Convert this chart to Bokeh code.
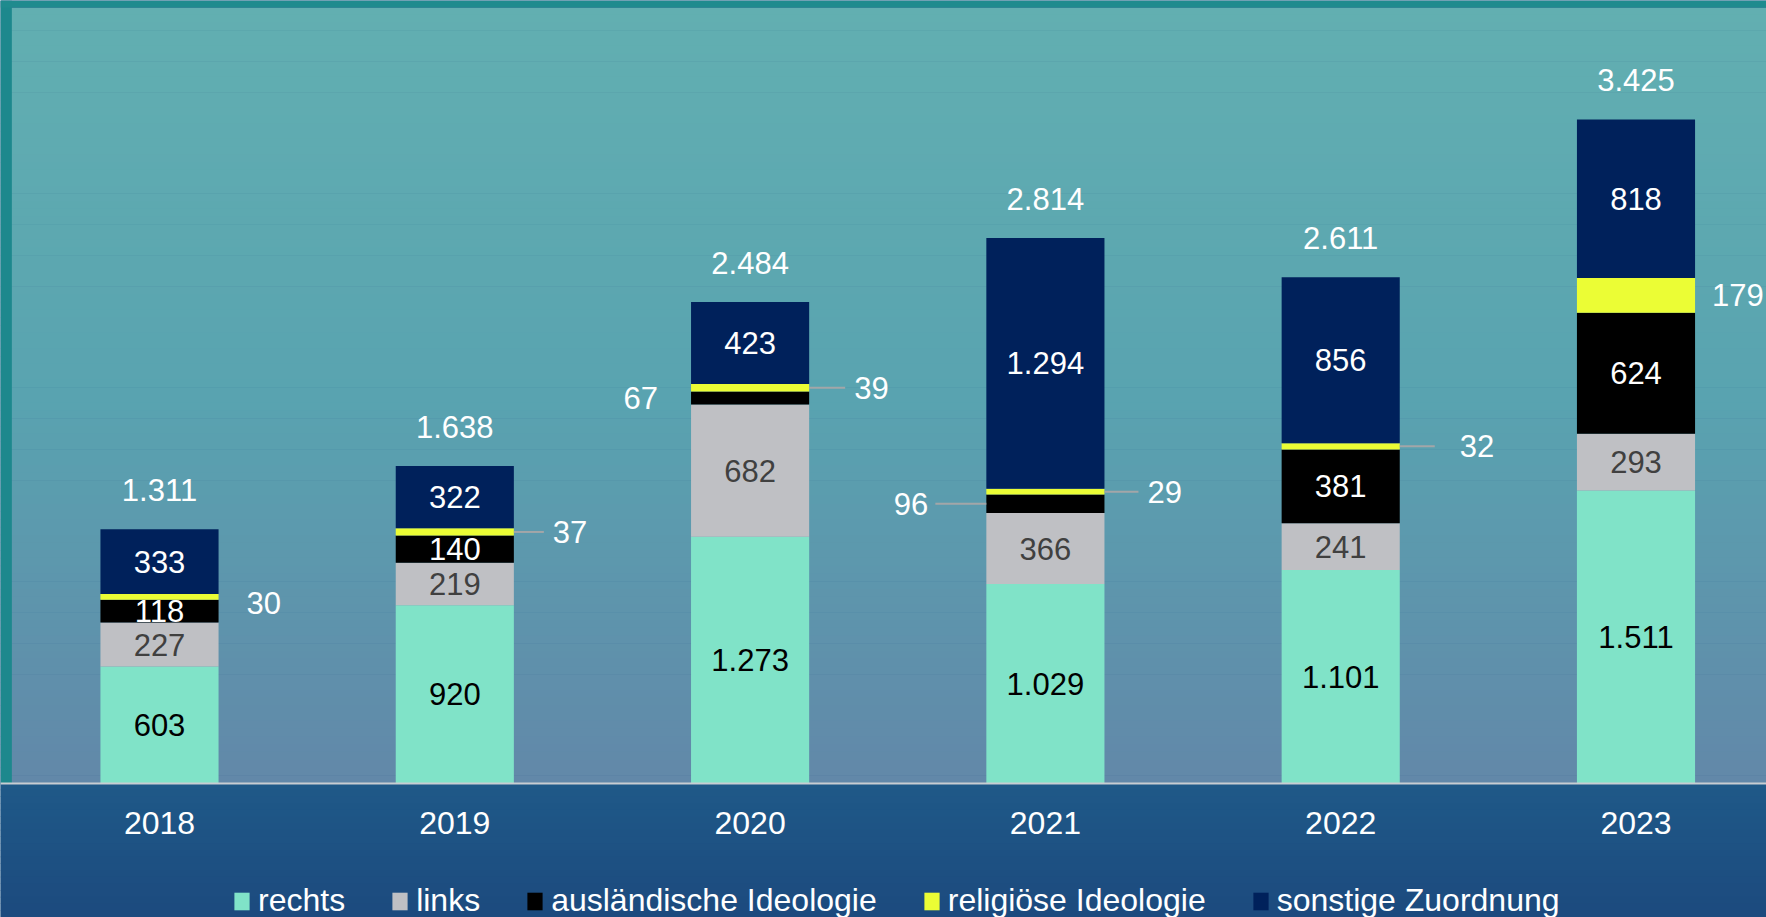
from bokeh.plotting import figure
from bokeh.models import Range1d, ColumnDataSource, Legend, LegendItem, Span
from bokeh.core.properties import value
from bokeh.embed import file_html
from bokeh.resources import INLINE

# ---------------- data ----------------
years = ["2018", "2019", "2020", "2021", "2022", "2023"]
rechts = [603, 920, 1273, 1029, 1101, 1511]
links = [227, 219, 682, 366, 241, 293]
auslaendisch = [118, 140, 67, 96, 381, 624]
religioes = [30, 37, 39, 29, 32, 179]
sonstige = [333, 322, 423, 1294, 856, 818]

series_keys = ["rechts", "links", "auslaendisch", "religioes", "sonstige"]
series_names = ["rechts", "links", "ausländische Ideologie", "religiöse Ideologie", "sonstige Zuordnung"]
series_values = [rechts, links, auslaendisch, religioes, sonstige]

# ---------------- style ----------------
series_colors = ["#80e3c8", "#bfc0c4", "#000000", "#ebfd35", "#00215b"]
label_colors = ["#000000", "#404040", "#ffffff", "#ffffff", "#ffffff"]
FONT_NAME = "Liberation Sans"
FONT = value(FONT_NAME)
FS = "31px"
FS_BIG = "32px"

# labels drawn outside the bar: (series index, year index) -> (side, leader px, gap px, dy px)
outside = {
    (3, 0): ("right", 0, 28, 6),
    (3, 1): ("right", 30, 39, 0),
    (2, 2): ("left", 0, 33, 0),
    (3, 2): ("right", 36, 45, 0),
    (2, 3): ("left", 51, 58, 0),
    (3, 3): ("right", 34, 43, 0),
    (3, 4): ("right", 35, 60, 0),
    (3, 5): ("right", 0, 17, 0),
}

W, H = 1766, 917
TOP_Y = 7             # px of the top frame strip
BASE_Y = 783          # px from top of the figure to the baseline
PX_PER_UNIT = 0.19387
PX_PER_CAT = 295.3
X0_PX = 11.35
BAR_W = 0.4

def px_x(px):
    return px / PX_PER_CAT

def px_y(px):
    return px / PX_PER_UNIT

def fmt(v):
    return f"{v:,}".replace(",", ".")

xr = Range1d(-px_x(X0_PX), px_x(W - X0_PX))
yr = Range1d(-px_y(H - BASE_Y), px_y(BASE_Y))

p = figure(width=W, height=H, x_range=xr, y_range=yr,
           output_backend="svg", toolbar_location=None,
           x_axis_type=None, y_axis_type=None, min_border=0,
           outline_line_color=None, background_fill_color="#1d5283",
           border_fill_color="#1d5283")
p.grid.visible = False

# ---------------- background gradients ----------------
def hex2rgb(h):
    h = h.lstrip("#")
    return tuple(int(h[i:i + 2], 16) for i in (0, 2, 4))

def interp(stops, t):
    for (t0, c0), (t1, c1) in zip(stops, stops[1:]):
        if t0 <= t <= t1:
            f = (t - t0) / (t1 - t0) if t1 > t0 else 0
            a, b = hex2rgb(c0), hex2rgb(c1)
            return "#%02x%02x%02x" % tuple(round(a[i] + (b[i] - a[i]) * f) for i in range(3))
    return stops[-1][1]

top_stops = [(TOP_Y, "#62afb1"), (400, "#59a3b0"), (BASE_Y, "#6288a9")]
bot_stops = [(BASE_Y, "#1f5988"), (H, "#1c4a7e")]

def strips(stops, y_from, y_to, n):
    b, t, c = [], [], []
    step = (y_to - y_from) / n
    for i in range(n):
        s0 = y_from + i * step
        s1 = s0 + step
        c.append(interp(stops, (s0 + s1) / 2))
        t.append(px_y(BASE_Y - s0) + (0 if i == 0 else px_y(0.6)))
        b.append(px_y(BASE_Y - s1))
    return b, t, c

b1, t1, c1 = strips(top_stops, TOP_Y, BASE_Y, 100)
b2, t2, c2 = strips(bot_stops, BASE_Y, H, 20)
bg = ColumnDataSource(dict(bottom=b1 + b2, top=t1 + t2, color=c1 + c2))
p.quad(left=xr.start, right=xr.end, bottom="bottom", top="top",
       fill_color="color", line_color=None, source=bg)
# teal frame strips (left and top)
p.quad(left=xr.start, right=0, bottom=0, top=yr.end, fill_color="#1d888d", line_color=None)
p.quad(left=xr.start, right=xr.end, bottom=px_y(BASE_Y - TOP_Y), top=yr.end,
       fill_color="#1f8b8e", line_color=None)

# ---------------- bars ----------------
xs = [i + 0.5 for i in range(len(years))]
data = dict(x=xs)
for k, v in zip(series_keys, series_values):
    data[k] = v
src = ColumnDataSource(data)
renderers = p.vbar_stack(series_keys, x="x", width=BAR_W, source=src,
                         fill_color=series_colors, line_color=None)

axis_line = Span(location=0, dimension="width", line_color="#c8cdd2", line_width=2)
p.add_layout(axis_line)

# ---------------- labels ----------------
in_x, in_y, in_t, in_c = [], [], [], []
out_x, out_y, out_t, out_al = [], [], [], []
ld_x0, ld_x1, ld_y = [], [], []
cum = [0] * len(years)
for si, vals in enumerate(series_values):
    for yi, v in enumerate(vals):
        mid = cum[yi] + v / 2
        key = (si, yi)
        if key in outside:
            side, lead, gap, dy = outside[key]
            sign = 1 if side == "right" else -1
            edge = xs[yi] + sign * BAR_W / 2
            out_x.append(edge + sign * px_x(gap))
            out_y.append(mid - px_y(dy))
            out_t.append(fmt(v))
            out_al.append("left" if side == "right" else "right")
            if lead:
                ld_x0.append(edge)
                ld_x1.append(edge + sign * px_x(lead))
                ld_y.append(mid)
        else:
            in_x.append(xs[yi])
            in_y.append(mid)
            in_t.append(fmt(v))
            in_c.append(label_colors[si])
        cum[yi] += v

p.segment(x0=ld_x0, x1=ld_x1, y0=ld_y, y1=ld_y, line_color="#a3a6a8", line_width=2)
p.text(x=in_x, y=in_y, text=in_t, text_color=in_c, text_font=FONT, text_font_size=FS,
       text_align="center", text_baseline="middle")
p.text(x=out_x, y=out_y, text=out_t, text_align=out_al, text_color="#ffffff",
       text_font=FONT, text_font_size=FS, text_baseline="middle")

totals = [sum(v) for v in zip(*series_values)]
p.text(x=xs, y=[t + px_y(39) for t in totals], text=[fmt(t) for t in totals],
       text_color="#ffffff", text_font=FONT, text_font_size=FS,
       text_align="center", text_baseline="middle")

# category labels under the baseline
p.text(x=xs, y=[-px_y(39)] * len(xs), text=years, text_color="#ffffff",
       text_font=FONT, text_font_size=FS_BIG, text_align="center", text_baseline="middle")

# ---------------- legend ----------------
legend = Legend(items=[LegendItem(label=n, renderers=[r]) for n, r in zip(series_names, renderers)],
                location=(232, -2), orientation="horizontal",
                glyph_width=19, glyph_height=22, label_standoff=7, spacing=45,
                padding=0, margin=0, background_fill_alpha=0, border_line_alpha=0,
                label_text_color="#ffffff", label_text_font=FONT_NAME, label_text_font_size=FS_BIG)
p.add_layout(legend)

open("out.html", "w").write(file_html(p, INLINE))
